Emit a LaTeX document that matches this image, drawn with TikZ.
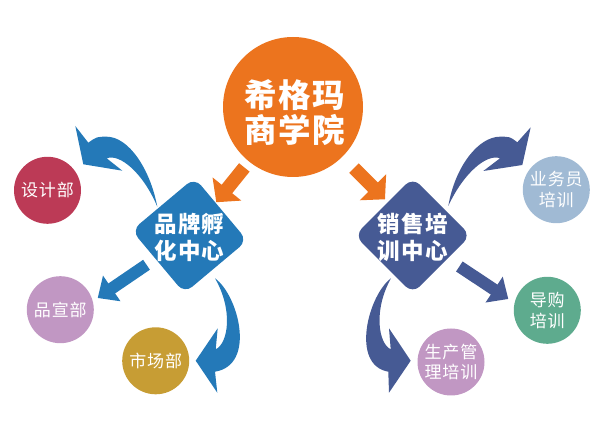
\documentclass[tikz,border=0pt]{standalone}
\usepackage{fontspec}
\setmainfont[LetterSpace=5]{Noto Sans CJK SC}
\usetikzlibrary{arrows.meta,shapes.geometric}
\definecolor{rootorange}{HTML}{EC741E}
\definecolor{brandblue}{HTML}{2479B8}
\definecolor{salesnavy}{HTML}{465A94}
\definecolor{designred}{HTML}{BC3A56}
\definecolor{lilac}{HTML}{C197C3}
\definecolor{marketgold}{HTML}{C79D34}
\definecolor{memberblue}{HTML}{A0BAD4}
\definecolor{guidegreen}{HTML}{5EAB8E}
\tikzset{
  dept/.style={circle,minimum size=67pt,inner sep=0pt,outer sep=0pt,align=center,text=white,font=\fontsize{17}{20.5}\selectfont},
  center/.style={regular polygon,regular polygon sides=4,minimum size=116pt,inner sep=-30pt,outer sep=0pt,rounded corners=10pt,align=center,text=white,font=\fontsize{22.5}{27}\bfseries\selectfont},
  rootarrow/.style={line width=13.5pt,rootorange,-{Triangle[length=17pt,width=36pt]}},
  deptarrow/.style={line width=12pt,-{Triangle[length=17pt,width=30pt]}},
}
\begin{document}
\begin{tikzpicture}[x=1pt,y=-1pt]
    \useasboundingbox (0,0) rectangle (600,435);

    % academia
    \node[circle,fill=rootorange,minimum size=140pt,inner sep=0pt,outer sep=0pt,align=center,text=white,font=\fontsize{32.5}{35}\bfseries\selectfont] (root) at (293,107) {\rule{0pt}{40pt}\hspace*{3pt}希格玛\\\hspace*{3pt}商学院};

    % centros
    \node[center,fill=brandblue,shape border rotate=40] (brand) at (189.5,235.5) {\rule{0pt}{24pt}品牌孵\\化中心};
    \node[center,fill=salesnavy,shape border rotate=45] (sales) at (412.7,235.5) {\rule{0pt}{24pt}销售培\\训中心};

    % departamentos
    \node[dept,fill=designred] (design) at (47.5,190.3) {设计部};
    \node[dept,fill=lilac] (promo) at (60.3,309.7) {品宣部};
    \node[dept,fill=marketgold] (market) at (155.7,360.8) {市场部};
    \node[dept,fill=memberblue] (member) at (556.3,189.7) {业务员\\培训};
    \node[dept,fill=guidegreen] (guide) at (547.3,310.3) {导购\\培训};
    \node[dept,fill=lilac] (manage) at (451,362) {生产管\\理培训};

    % setas retas
    \coordinate (salestip) at (385,199.3);
    \coordinate (promotip) at (97.7,298);
    \coordinate (guidetip) at (508.3,299);
    \draw[rootarrow,shorten <=77.6pt,shorten >=42.7pt] (root.center) -- (brand.center);
    \draw[rootarrow,shorten <=16.3pt] (root.-45) -- (salestip);
    \draw[deptarrow,brandblue,shorten <=52pt] (brand.center) -- (promotip);
    \draw[deptarrow,salesnavy,shorten <=56pt] (sales.center) -- (guidetip);

    % setas curvas
    \fill[brandblue] (157.3,206.7) .. controls (150,168.3) and (128.3,136.7) .. (106.7,136.7)
      .. controls (96.7,136.7) .. (88.3,142.7) -- (75.3,126) -- (83.3,164.3) -- (122.3,170.7) -- (106.7,158.3)
      .. controls (120,153.3) and (143.3,173.3) .. cycle;
    \fill[brandblue] (215,278.3) .. controls (238.3,295) and (256.7,365) .. (215,371.7)
      -- (217.3,392.7) -- (195.7,360.7) -- (217.7,328.3) -- (215.7,349.3)
      .. controls (228.3,343.3) and (233.3,310) .. cycle;
    \fill[salesnavy] (448.3,206) .. controls (455,166.7) and (478.3,136.7) .. (500,136.7)
      .. controls (510,136.7) .. (517.3,142.3) -- (530.7,127.3) -- (522.3,165) -- (483.3,171) -- (500,158.3)
      .. controls (486.7,153.3) and (463.3,173.3) .. cycle;
    \fill[salesnavy] (391,278.3) .. controls (368.3,295) and (350,365) .. (388.3,371.7)
      -- (389,392.7) -- (410.7,360.7) -- (389,328.3) -- (390.7,349.3)
      .. controls (378.3,343.3) and (373.3,310) .. cycle;
\end{tikzpicture}
\end{document}
